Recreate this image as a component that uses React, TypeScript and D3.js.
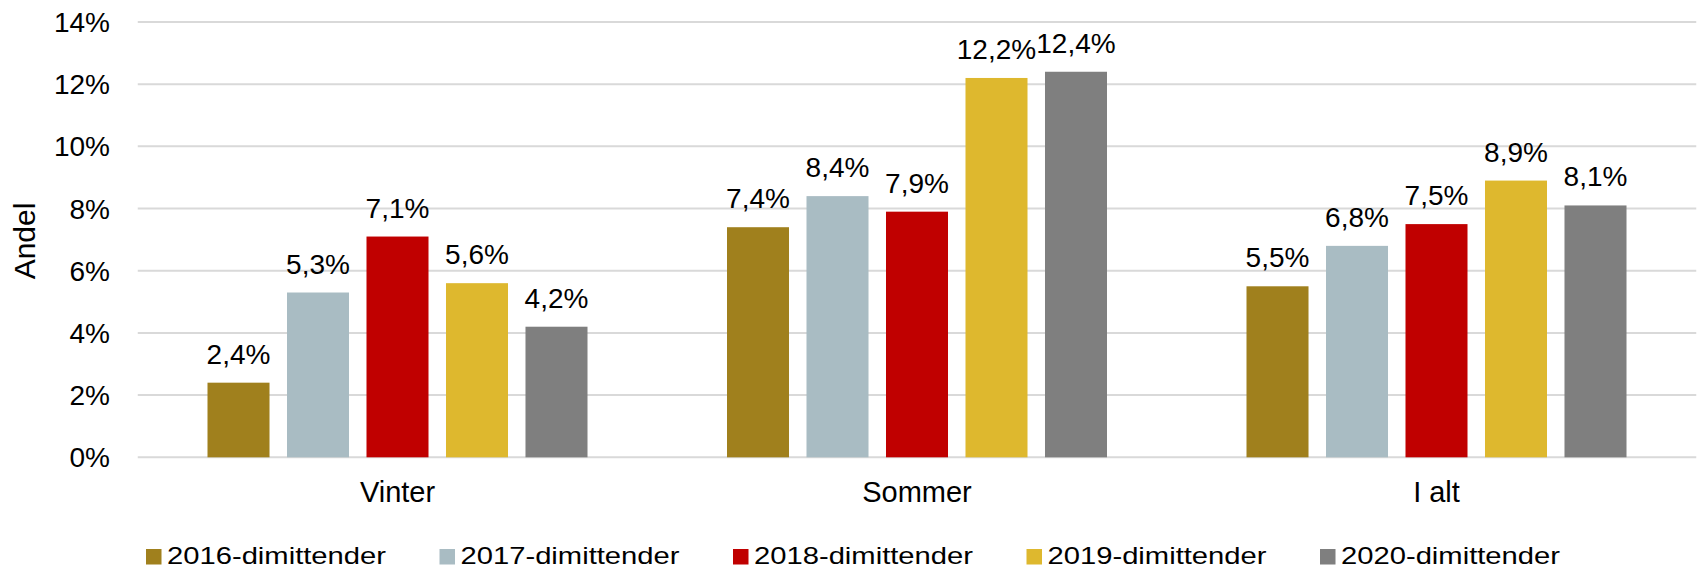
import React from "react";
import * as d3 from "d3";

const categories = ["Vinter", "Sommer", "I alt"];
const seriesNames = [
  "2016-dimittender",
  "2017-dimittender",
  "2018-dimittender",
  "2019-dimittender",
  "2020-dimittender",
];
const seriesColors = ["#a0801d", "#a9bcc3", "#c00000", "#deb82e", "#7f7f7f"];
const values2016 = [2.4, 7.4, 5.5];
const values2017 = [5.3, 8.4, 6.8];
const values2018 = [7.1, 7.9, 7.5];
const values2019 = [5.6, 12.2, 8.9];
const values2020 = [4.2, 12.4, 8.1];
const seriesValues = [values2016, values2017, values2018, values2019, values2020];
const yTicks = [0, 2, 4, 6, 8, 10, 12, 14];

const W = 1700;
const H = 569;
const FONT = "'Liberation Sans', Arial, sans-serif";

export default function App() {
  const x0 = d3.scaleBand<string>().domain(categories).range([137.75, 1696.25]).padding(0);
  const bw = x0.bandwidth();
  const groupW = 380;
  const off = (bw - groupW) / 2;
  const x1 = d3
    .scaleBand<string>()
    .domain(seriesNames)
    .range([off, off + groupW])
    .paddingInner(0.22)
    .paddingOuter(0);
  const y = d3.scaleLinear().domain([0, 14]).range([457.3, 22]);
  const fmt = (v: number) => d3.format(".1f")(v).replace(".", ",") + "%";

  return (
    <div style={{ position: "absolute", left: 0, top: 0 }}>
      <svg width={W} height={H} style={{ display: "block", fontFamily: FONT }}>
        <rect x={0} y={0} width={W} height={H} fill="#ffffff" />
        {yTicks.map((t) => (
          <g key={t}>
            <line x1={137.75} x2={1696.25} y1={y(t)} y2={y(t)} stroke="#d9d9d9" strokeWidth={2} />
            <text x={110} y={y(t) + 10} textAnchor="end" fontSize={28} fill="#000">
              {t + "%"}
            </text>
          </g>
        ))}
        <text
          transform={`translate(35,241) rotate(-90)`}
          textAnchor="middle"
          fontSize={30}
          fill="#000"
        >
          Andel
        </text>
        {categories.map((c, ci) => (
          <g key={c} transform={`translate(${x0(c)},0)`}>
            {seriesNames.map((s, si) => {
              const v = seriesValues[si][ci];
              const bx = x1(s) as number;
              return (
                <g key={s}>
                  <rect
                    x={bx}
                    y={y(v)}
                    width={x1.bandwidth()}
                    height={y(0) - y(v)}
                    fill={seriesColors[si]}
                  />
                  <text
                    x={bx + x1.bandwidth() / 2}
                    y={y(v) - 19}
                    textAnchor="middle"
                    fontSize={28}
                    fill="#000"
                  >
                    {fmt(v)}
                  </text>
                </g>
              );
            })}
            <text x={bw / 2} y={502} textAnchor="middle" fontSize={29} fill="#000">
              {c}
            </text>
          </g>
        ))}
        {seriesNames.map((s, si) => {
          const lx = 146 + si * 293.5;
          return (
            <g key={s}>
              <rect x={lx} y={549} width={15.5} height={15.5} fill={seriesColors[si]} />
              <text
                x={lx + 21}
                y={564}
                fontSize={24}
                fill="#000"
                textLength={219}
                lengthAdjust="spacingAndGlyphs"
              >
                {s}
              </text>
            </g>
          );
        })}
      </svg>
    </div>
  );
}
